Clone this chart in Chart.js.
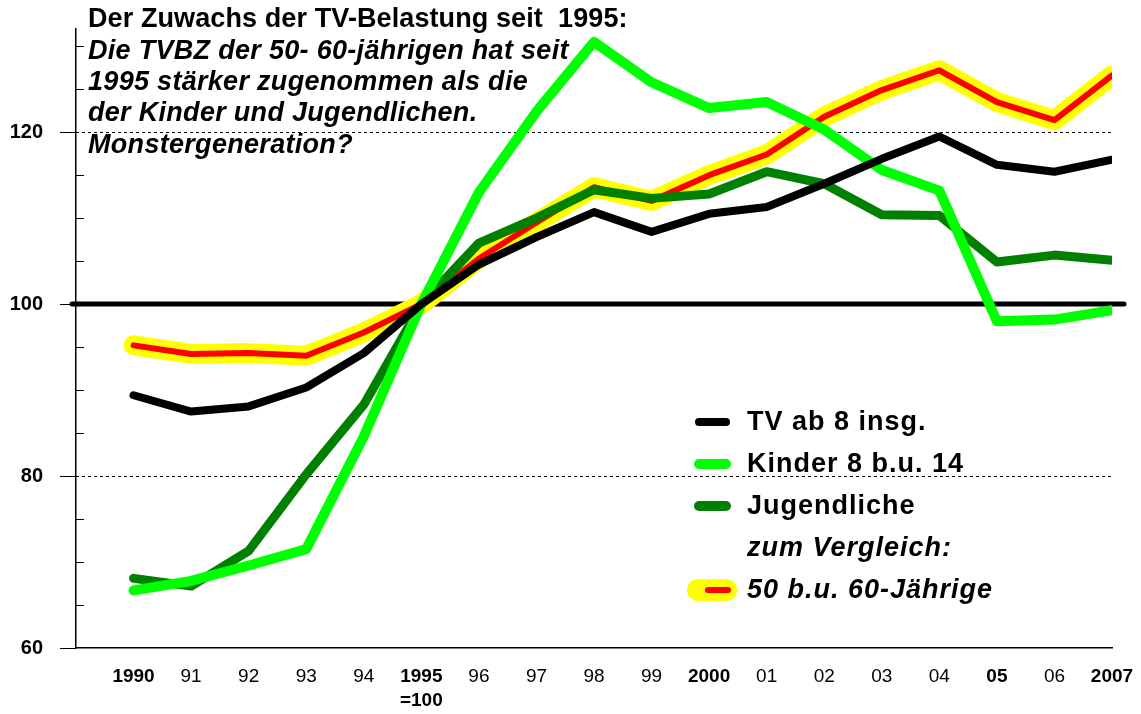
<!DOCTYPE html>
<html>
<head>
<meta charset="utf-8">
<script src="https://cdn.jsdelivr.net/npm/chart.js@4"></script>
<style>
  html, body { margin: 0; padding: 0; background: #fff; }
</style>
</head>
<body>
<canvas id="grafico" width="1141" height="714"></canvas>
<script>
// Jahre und Achsenbeschriftung
const jahre = [1990, 1991, 1992, 1993, 1994, 1995, 1996, 1997, 1998, 1999, 2000, 2001, 2002, 2003, 2004, 2005, 2006, 2007];
const jahrLabels = ['1990', '91', '92', '93', '94', ['1995', '=100'], '96', '97', '98', '99', '2000', '01', '02', '03', '04', '05', '06', '2007'];
const fetteJahre = [1990, 1995, 2000, 2005, 2007];
const yLabels = [60, 80, 100, 120];

// TV-Belastung, 1995 = 100
const tvGesamt    = [89.4, 87.5, 88.1, 90.3, 94.3, 100, 104.6, 107.8, 110.7, 108.4, 110.5, 111.3, 114.0, 116.9, 119.5, 116.2, 115.4, 116.8];
const kinder      = [66.7, 67.8, 69.6, 71.5, 84.6, 100, 113.0, 122.4, 130.5, 125.8, 122.8, 123.5, 120.3, 115.6, 113.2, 98.0, 98.2, 99.3];
const jugendliche = [68.1, 67.2, 71.3, 80.2, 88.3, 100, 107.1, 110.0, 113.3, 112.3, 112.8, 115.4, 114.0, 110.4, 110.3, 104.9, 105.7, 105.1];
const aeltere     = [95.2, 94.2, 94.3, 94.0, 96.7, 100, 105.3, 109.5, 113.6, 112.0, 115.0, 117.4, 121.8, 124.9, 127.2, 123.5, 121.4, 126.6];

const titelZeilen = [
    'Der Zuwachs der TV-Belastung seit  1995:',
    'Die TVBZ der 50- 60-jährigen hat seit',
    '1995 stärker zugenommen als die',
    'der Kinder und Jugendlichen.',
    'Monstergeneration?'
];

const schrift = '"Liberation Sans", Arial, sans-serif';
const punkte = (werte) => jahre.map((j, i) => ({ x: j, y: werte[i] }));

// Titel, Legende, Hilfslinien
const zusatz = {
    id: 'zusatz',
    beforeDatasetsDraw(chart) {
        const { ctx, chartArea, scales: { y } } = chart;
        const linie = (x1, y1, x2, y2) => { ctx.beginPath(); ctx.moveTo(x1, y1); ctx.lineTo(x2, y2); ctx.stroke(); };
        ctx.save();
        ctx.strokeStyle = '#000';
        ctx.lineWidth = 1;
        ctx.setLineDash([3, 3]);
        for (const v of [80, 120]) {
            const py = Math.round(y.getPixelForValue(v)) + 0.5;
            linie(chartArea.left, py, chartArea.right, py);
        }
        ctx.setLineDash([]);
        for (let v = 65; v < 132; v += 5) {
            if (v % 20 === 0) continue;
            const py = Math.round(y.getPixelForValue(v)) + 0.5;
            linie(chartArea.left, py, chartArea.left + 8, py);
        }
        const p100 = y.getPixelForValue(100);
        ctx.lineWidth = 5;
        ctx.lineCap = 'round';
        linie(chartArea.left - 4, p100, chartArea.right + 12, p100);
        ctx.restore();
    },
    afterDraw(chart) {
        const ctx = chart.ctx;
        ctx.save();
        ctx.fillStyle = '#000';
        ctx.textBaseline = 'middle';
        ctx.textAlign = 'left';
        titelZeilen.forEach((t, i) => {
            ctx.font = (i === 0 ? 'bold ' : 'italic bold ') + '27px ' + schrift;
            ctx.letterSpacing = i === 0 ? '0.1px' : '0.3px';
            ctx.fillText(t, 88, 20 + i * 31.3);
        });
        ctx.letterSpacing = '0px';

        // Legende
        const eintraege = [
            { text: 'TV ab 8 insg.', farbe: '#000000', breite: 8, kursiv: false },
            { text: 'Kinder 8 b.u. 14', farbe: '#00ff00', breite: 10, kursiv: false },
            { text: 'Jugendliche', farbe: '#008000', breite: 10, kursiv: false },
            { text: 'zum Vergleich:', farbe: null, kursiv: true },
            { text: '50 b.u. 60-Jährige', farbe: '#ff0000', breite: 6, kursiv: true, halo: true }
        ];
        ctx.lineCap = 'round';
        eintraege.forEach((e, i) => {
            const py = 422 + i * 42;
            if (e.halo) {
                ctx.strokeStyle = '#ffff00';
                ctx.lineWidth = 22;
                ctx.beginPath(); ctx.moveTo(698, py); ctx.lineTo(726, py); ctx.stroke();
                ctx.strokeStyle = e.farbe;
                ctx.lineWidth = e.breite;
                ctx.beginPath(); ctx.moveTo(708, py); ctx.lineTo(728, py); ctx.stroke();
            } else if (e.farbe) {
                ctx.strokeStyle = e.farbe;
                ctx.lineWidth = e.breite;
                ctx.beginPath(); ctx.moveTo(699, py); ctx.lineTo(726, py); ctx.stroke();
            }
            ctx.font = (e.kursiv ? 'italic bold ' : 'bold ') + '27px ' + schrift;
            ctx.letterSpacing = '1px';
            ctx.fillText(e.text, 747, py + 1);
            ctx.letterSpacing = '0px';
        });
        ctx.restore();
    }
};

new Chart(document.getElementById('grafico'), {
    type: 'line',
    data: {
        datasets: [
            { label: 'TV ab 8 insg.', data: punkte(tvGesamt), borderColor: '#000000', borderWidth: 8, order: 1 },
            { label: 'Kinder 8 b.u. 14', data: punkte(kinder), borderColor: '#00ff00', borderWidth: 10, order: 2 },
            { label: 'Jugendliche', data: punkte(jugendliche), borderColor: '#008000', borderWidth: 9, order: 3 },
            { label: '50 b.u. 60-Jährige', data: punkte(aeltere), borderColor: '#ff0000', borderWidth: 6, order: 4 },
            { label: 'Halo', data: punkte(aeltere), borderColor: '#ffff00', borderWidth: 20, order: 5 }
        ]
    },
    options: {
        responsive: false,
        animation: false,
        devicePixelRatio: 1,
        layout: { padding: { top: 28, right: 29, left: 0, bottom: 0 } },
        elements: {
            point: { radius: 0, hoverRadius: 0 },
            line: { tension: 0, fill: false, borderCapStyle: 'round', borderJoinStyle: 'round' }
        },
        plugins: {
            legend: { display: false },
            tooltip: { enabled: false },
            title: { display: false }
        },
        scales: {
            x: {
                type: 'linear',
                min: 1989,
                max: 2007,
                afterFit(scale) {
                    scale.height = 66;
                    scale.paddingLeft = 0;
                    scale.paddingRight = 0;
                },
                grid: { display: false, drawTicks: false },
                border: { display: true, color: '#000', width: 1.5 },
                ticks: {
                    stepSize: 1,
                    autoSkip: false,
                    maxRotation: 0,
                    padding: 17,
                    color: '#000',
                    font: (c) => ({
                        family: schrift,
                        size: 19,
                        lineHeight: 1.25,
                        weight: c.tick && fetteJahre.includes(c.tick.value) ? 'bold' : 'normal'
                    }),
                    callback: (v) => {
                        const i = jahre.indexOf(v);
                        return i < 0 ? '' : jahrLabels[i];
                    }
                }
            },
            y: {
                min: 60,
                max: 132,
                afterFit(scale) { scale.width = 76; },
                grid: {
                    drawOnChartArea: false,
                    drawTicks: true,
                    tickLength: 16,
                    tickWidth: 1,
                    tickColor: (c) => (c.tick && yLabels.includes(c.tick.value) ? '#000' : 'rgba(0,0,0,0)')
                },
                border: { display: true, color: '#000', width: 1.5 },
                ticks: {
                    stepSize: 5,
                    autoSkip: false,
                    padding: 17,
                    color: '#000',
                    font: { family: schrift, size: 20, weight: 'bold' },
                    callback: (v) => (yLabels.includes(v) ? String(v) : '')
                }
            }
        }
    },
    plugins: [zusatz]
});
</script>
</body>
</html>
